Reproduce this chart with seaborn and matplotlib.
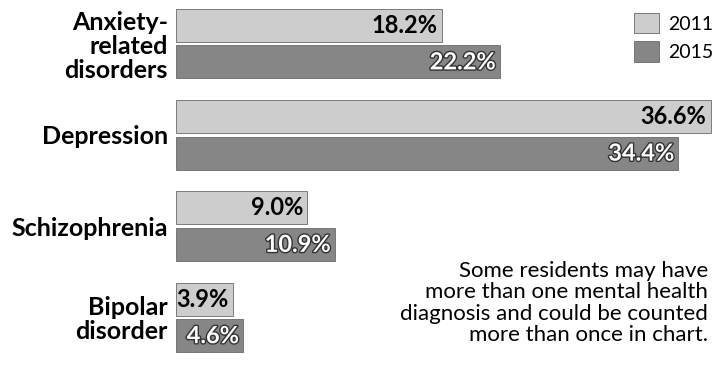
import matplotlib
matplotlib.use("Agg")
import matplotlib.pyplot as plt
import matplotlib.patheffects as pe
import pandas as pd
import seaborn as sns

# Datos
categorias = ["Anxiety-\nrelated\ndisorders", "Depression", "Schizophrenia", "Bipolar\ndisorder"]
valores_2011 = [18.2, 36.6, 9.0, 3.9]
valores_2015 = [22.2, 34.4, 10.9, 4.6]
anios = ["2011", "2015"]
nota = ("Some residents may have\nmore than one mental health\n"
        "diagnosis and could be counted\nmore than once in chart.")

df = pd.DataFrame({
    "categoria": categorias * 2,
    "valor": valores_2011 + valores_2015,
    "anio": [anios[0]] * len(categorias) + [anios[1]] * len(categorias),
})

sns.set_style("white")
plt.rcParams["font.family"] = ["Lato", "DejaVu Sans"]
plt.rcParams["text.color"] = "black"

fig = plt.figure(figsize=(7.18, 3.67), dpi=100)
ax = fig.add_axes([176 / 718, 4 / 367, 536 / 718, 365 / 367])

colores = {"2011": "#cdcdcd", "2015": "#868686"}
sns.barplot(data=df, y="categoria", x="valor", hue="anio", palette=colores,
            orient="h", width=0.8, gap=0.1, ax=ax, edgecolor="#6a6a6a", linewidth=0.6)

ax.set_xlim(0, 36.7)
ax.set_ylim(3.5, -0.5)
ax.set_xlabel("")
ax.set_ylabel("")
ax.set_xticks([])
sns.despine(ax=ax, left=True, bottom=True)
ax.tick_params(axis="y", length=0, pad=6)
for t in ax.get_yticklabels():
    t.set_fontweight("bold")
    t.set_fontsize(18)
    t.set_color("black")
    t.set_linespacing(1.05)

# Etiquetas de valores
for i, cont in enumerate(ax.containers):
    for barra, v in zip(cont, [valores_2011, valores_2015][i]):
        y = barra.get_y() + barra.get_height() / 2
        if i == 0:
            ax.text(v - 0.3, y, f"{v:.1f}%", ha="right", va="center",
                    fontsize=17, fontweight="bold", color="black")
        else:
            ax.text(v - 0.3, y, f"{v:.1f}%", ha="right", va="center",
                    fontsize=17, fontweight="bold", color="white",
                    path_effects=[pe.withStroke(linewidth=2, foreground="#333333")])

sns.move_legend(ax, loc="upper left", bbox_to_anchor=(0.838, 0.982), title=None,
                frameon=False, fontsize=14, handlelength=1.29, handleheight=1.24,
                handletextpad=0.5, labelspacing=0.41, borderaxespad=0.0,
                borderpad=0.43)

fig.text(708 / 718, 1 - 261 / 367, nota, ha="right", va="top", fontsize=16,
         linespacing=1.08)

fig.savefig("out.png", dpi=100)
